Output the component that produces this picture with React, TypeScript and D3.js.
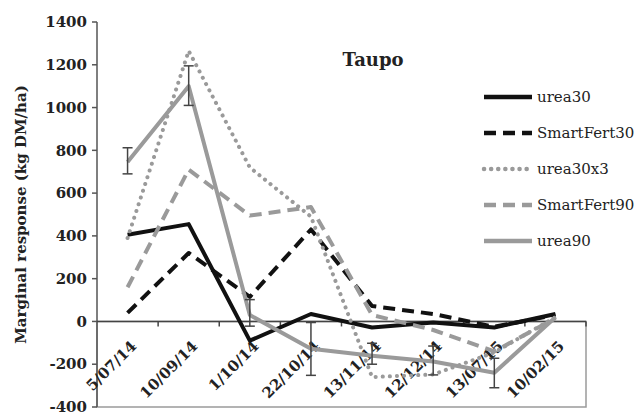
import React from 'react';
import * as d3 from 'd3';

const categories = ['5/07/14', '10/09/14', '1/10/14', '22/10/14', '13/11/14', '12/12/14', '13/07/15', '10/02/15'];
const yTicks = [-400, -200, 0, 200, 400, 600, 800, 1000, 1200, 1400];

const urea30 = [405, 455, -90, 35, -28, -5, -28, 35];
const smartFert30 = [40, 320, 115, 430, 72, 35, -25, 30];
const urea30x3 = [390, 1265, 720, 490, -260, -248, -145, 20];
const smartFert90 = [160, 710, 495, 535, 30, -40, -140, 15];
const urea90 = [745, 1100, 30, -128, -160, -187, -240, 20];
const urea90Low = [690, 1010, -22, -252, -200, -250, -310, null];
const urea90High = [812, 1195, 102, -5, -102, -115, -172, null];

const series = [
  { name: 'urea30', values: urea30, color: '#111111', dash: null, cap: 'butt' },
  { name: 'SmartFert30', values: smartFert30, color: '#111111', dash: '12,7', cap: 'butt' },
  { name: 'urea30x3', values: urea30x3, color: '#9a9a9a', dash: '0.1,7', cap: 'round' },
  { name: 'SmartFert90', values: smartFert90, color: '#9a9a9a', dash: '12,7', cap: 'butt' },
  { name: 'urea90', values: urea90, color: '#9a9a9a', dash: null, cap: 'butt' },
];

const W = 639;
const H = 415;
const left = 97;
const right = 586;
const top = 22;
const bottom = 407;
const font = '"DejaVu Serif", serif';

export default function App() {
  const x = d3.scaleBand<string>().domain(categories).range([left, right]);
  const y = d3.scaleLinear().domain([-400, 1400]).range([bottom, top]);
  const cx = (i: number) => (x(categories[i]) as number) + x.bandwidth() / 2;
  const line = d3
    .line<number>()
    .x((_, i) => cx(i))
    .y((d) => y(d));
  const y0 = y(0);

  return (
    <svg width={W} height={H} style={{ position: 'absolute', left: 0, top: 0, background: '#fff' }}>
      {/* box under the zero line */}
      <rect x={left} y={y0} width={right - left} height={bottom - y0} fill="none" stroke="#9a9a9a" strokeWidth={1.5} />
      {/* y axis */}
      <line x1={left} x2={left} y1={top} y2={bottom} stroke="#555" strokeWidth={1.5} />
      {yTicks.map((t) => (
        <g key={t}>
          <line x1={left - 5} x2={left} y1={y(t)} y2={y(t)} stroke="#555" strokeWidth={1.5} />
          <text x={left - 10} y={y(t)} dy="0.35em" textAnchor="end" fontFamily={font} fontWeight="bold" fontSize={15} fill="#222">
            {t}
          </text>
        </g>
      ))}
      {/* x axis at zero */}
      <line x1={left} x2={right} y1={y0} y2={y0} stroke="#444" strokeWidth={1.5} />
      {categories.map((c, i) => (
        <line key={'t' + i} x1={(x(c) as number) + x.bandwidth()} x2={(x(c) as number) + x.bandwidth()} y1={y0} y2={y0 + 5} stroke="#444" strokeWidth={1.5} />
      ))}
      {categories.map((c, i) => (
        <text
          key={c}
          transform={`translate(${cx(i) + 6},${y0 + 22}) rotate(-45)`}
          textAnchor="end"
          dy="0.35em"
          fontFamily={font}
          fontWeight="bold"
          fontSize={15}
          fill="#222"
        >
          {c}
        </text>
      ))}
      {/* series */}
      {series.map((s) => (
        <path
          key={s.name}
          d={line(s.values) as string}
          fill="none"
          stroke={s.color}
          strokeWidth={4}
          strokeDasharray={s.dash ?? undefined}
          strokeLinecap={s.cap as any}
          strokeLinejoin="round"
        />
      ))}
      {/* error bars on urea90 */}
      {urea90Low.map((lo, i) => {
        const hi = urea90High[i];
        if (lo == null || hi == null) return null;
        const px = cx(i);
        return (
          <g key={'e' + i} stroke="#444" strokeWidth={1.5}>
            <line x1={px} x2={px} y1={y(lo)} y2={y(hi)} />
            <line x1={px - 5} x2={px + 5} y1={y(lo)} y2={y(lo)} />
            <line x1={px - 5} x2={px + 5} y1={y(hi)} y2={y(hi)} />
          </g>
        );
      })}
      {/* title */}
      <text x={373} y={66} textAnchor="middle" fontFamily={font} fontWeight="bold" fontSize={18} fill="#222">
        Taupo
      </text>
      {/* y axis title */}
      <text
        transform={`translate(21,${(top + bottom) / 2}) rotate(-90)`}
        textAnchor="middle"
        dy="0.35em"
        fontFamily={font}
        fontWeight="bold"
        fontSize={15}
        fill="#222"
      >
        Marginal response (kg DM/ha)
      </text>
      {/* legend */}
      {series.map((s, i) => {
        const ly = 97 + i * 36;
        return (
          <g key={'l' + s.name}>
            <line x1={484} x2={532} y1={ly} y2={ly} stroke={s.color} strokeWidth={4.5} strokeDasharray={s.dash ?? undefined} strokeLinecap={s.cap as any} />
            <text x={537} y={ly} dy="0.35em" fontFamily={font} fontSize={15} fill="#222">
              {s.name}
            </text>
          </g>
        );
      })}
    </svg>
  );
}
